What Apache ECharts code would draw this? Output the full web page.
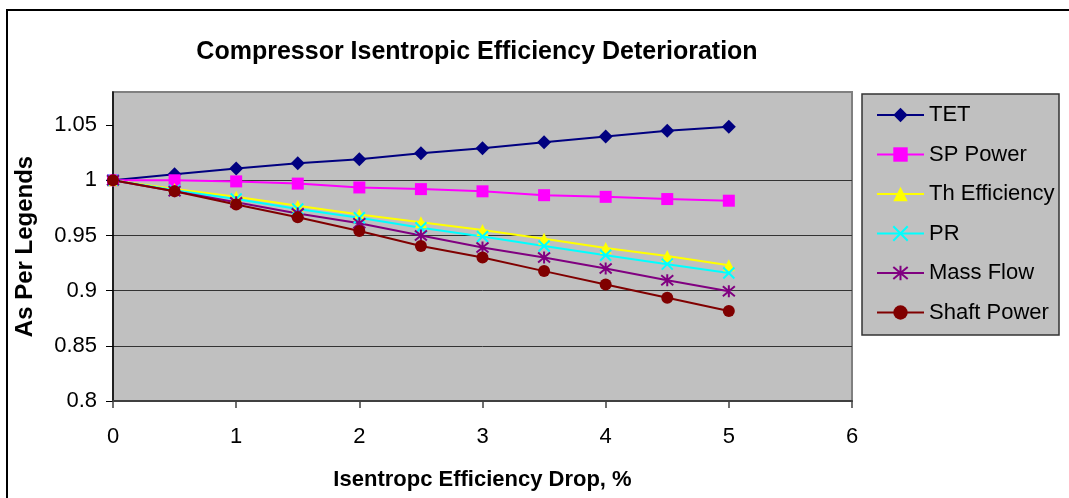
<!DOCTYPE html>
<html>
<head>
<meta charset="utf-8">
<script src="https://cdn.jsdelivr.net/npm/echarts@6/dist/echarts.min.js"></script>
<style>html,body{margin:0;padding:0;background:#fff;}#c{width:1069px;height:498px;}</style>
</head>
<body>
<div id="c"></div>
<script>
const xValues = [0, 0.5, 1, 1.5, 2, 2.5, 3, 3.5, 4, 4.5, 5];
const tet = [1, 1.0055, 1.0106, 1.0155, 1.019, 1.0245, 1.029, 1.0345, 1.0397, 1.0448, 1.0485];
const spPower = [1, 1.0, 0.999, 0.997, 0.9935, 0.992, 0.990, 0.9865, 0.985, 0.983, 0.9815];
const thEfficiency = [1, 0.992, 0.985, 0.977, 0.969, 0.962, 0.955, 0.947, 0.9386, 0.9314, 0.923];
const pr = [1, 0.991, 0.983, 0.974, 0.966, 0.957, 0.949, 0.9405, 0.932, 0.924, 0.916];
const massFlow = [1, 0.990, 0.980, 0.970, 0.961, 0.950, 0.939, 0.930, 0.920, 0.9095, 0.8995];
const shaftPower = [1, 0.990, 0.978, 0.9665, 0.954, 0.9405, 0.930, 0.9177, 0.9056, 0.8935, 0.8816];
const yTicks = [0.8, 0.85, 0.9, 0.95, 1, 1.05];
const seriesNames = ['TET', 'SP Power', 'Th Efficiency', 'PR', 'Mass Flow', 'Shaft Power'];

const FONT = 'Liberation Sans, Arial, sans-serif';
const pts = arr => xValues.map((x, i) => [x, arr[i]]);
const X_PATH = 'path://M0,0L10,10M10,0L0,10';
const STAR_PATH = 'path://M0,0L10,10M10,0L0,10M5,-1L5,11';

function lineSeries(name, arr, color, symbol, size, opts) {
  opts = opts || {};
  return {
    name: name, type: 'line', data: pts(arr),
    symbol: symbol, symbolSize: size,
    lineStyle: {color: color, width: 2},
    itemStyle: Object.assign({color: color}, opts.itemStyle || {}),
    emphasis: {disabled: true},
    animation: false, z: opts.z || 2
  };
}

const chart = echarts.init(document.getElementById('c'), null, {renderer: 'canvas'});
chart.setOption({
  backgroundColor: '#ffffff',
  animation: false,
  title: {
    text: 'Compressor Isentropic Efficiency Deterioration',
    left: 472, top: 35, textAlign: 'center',
    textStyle: {fontFamily: FONT, fontSize: 25, fontWeight: 'bold', color: '#000'}
  },
  graphic: [
    {type: 'rect', shape: {x: 7, y: 10, width: 1100, height: 600}, style: {fill: 'none', stroke: '#000', lineWidth: 2}, z: 100},
    {type: 'rect', shape: {x: 862, y: 94, width: 197, height: 241}, style: {fill: '#C0C0C0', stroke: '#333', lineWidth: 1.5}, z: -1}
  ],
  legend: {
    orient: 'vertical', left: 876, top: 104,
    itemWidth: 47, itemHeight: 18, itemGap: 17.5, padding: 0,
    data: seriesNames,
    textStyle: {fontFamily: FONT, fontSize: 22, color: '#000'}
  },
  grid: {
    left: 113, top: 92, right: 217, bottom: 97,
    outerBoundsMode: 'none',
    show: true, backgroundColor: '#C0C0C0', borderColor: '#808080', borderWidth: 2
  },
  xAxis: {
    type: 'value', min: 0, max: 6, interval: 1,
    name: 'Isentropc Efficiency Drop, %', nameLocation: 'middle', nameGap: 68,
    nameTextStyle: {fontFamily: FONT, fontSize: 22, fontWeight: 'bold', color: '#000'},
    axisLine: {show: true, lineStyle: {color: '#404040', width: 2}},
    axisTick: {show: true, inside: false, length: 7, lineStyle: {color: '#404040', width: 1.5}},
    axisLabel: {margin: 25, fontFamily: FONT, fontSize: 22, color: '#000'},
    splitLine: {show: false}
  },
  yAxis: {
    type: 'value', min: 0.8, max: 1.08, interval: 0.05,
    name: 'As Per Legends', nameLocation: 'middle', nameGap: 76, nameRotate: 90,
    nameTextStyle: {fontFamily: FONT, fontSize: 24, fontWeight: 'bold', color: '#000'},
    axisLine: {show: true, lineStyle: {color: '#000', width: 1.5}},
    axisTick: {show: true, inside: false, length: 7, customValues: yTicks, lineStyle: {color: '#000', width: 1}},
    axisLabel: {margin: 16, fontFamily: FONT, fontSize: 22, color: '#000', customValues: yTicks,
      formatter: v => String(Math.round(v * 100) / 100)},
    splitLine: {show: true, showMaxLine: false, lineStyle: {color: '#333', width: 1}}
  },
  series: [
    lineSeries('TET', tet, '#000080', 'diamond', [14, 14]),
    lineSeries('SP Power', spPower, '#FF00FF', 'rect', 12),
    lineSeries('Th Efficiency', thEfficiency, '#FFFF00', 'triangle', 12),
    lineSeries('PR', pr, '#00FFFF', X_PATH, 11, {itemStyle: {borderColor: '#00FFFF', borderWidth: 2}}),
    lineSeries('Mass Flow', massFlow, '#800080', STAR_PATH, 12, {itemStyle: {borderColor: '#800080', borderWidth: 2}}),
    lineSeries('Shaft Power', shaftPower, '#800000', 'circle', 12)
  ]
});
</script>
</body>
</html>
